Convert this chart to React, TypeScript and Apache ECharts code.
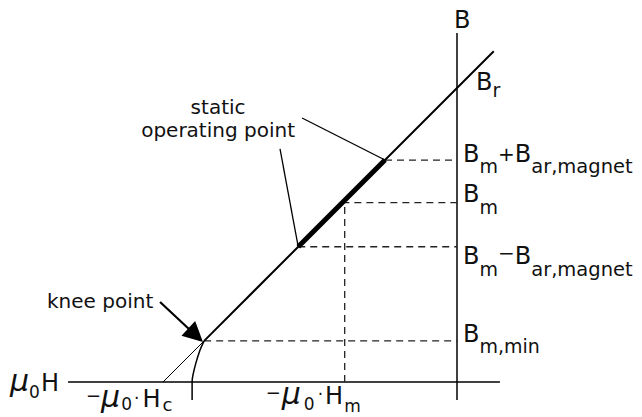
import { useEffect, useRef } from 'react';
import * as echarts from 'echarts';

// ---- data (normalised units: Br = 1, Hc = -1) ----
const BR = 1;
const HC = -1;
const levelNames = ['Bm+Bar,magnet', 'Bm', 'Bm−Bar,magnet', 'Bm,min'];
const levelValues = [0.755, 0.61, 0.46, 0.14];
const HM = -0.382;
const mainLine = [[-0.86, 0.14], [0.125, 1.125]];
const extrapolation = [[HC, 0], [-0.86, 0.14]];
const operatingSegment = [[-0.54, 0.46], [-0.245, 0.755]];
const kneeCurve = [[-0.86, 0.14], [-0.874, 0.109], [-0.888, 0.065], [-0.898, 0.024], [-0.901, 0], [-0.901, -0.061]];
const hAxisLine = [[-1.323, 0], [0.146, 0]];
const bAxisLine = [[0, -0.061], [0, 1.187]];
const leaderUpper = [[-0.527, 0.898], [-0.245, 0.755]];
const leaderLower = [[-0.602, 0.793], [-0.54, 0.46]];
const kneeArrow = [[-1.01, 0.272], [-0.889, 0.159]];

type Piece = { t: string; size: number; dy?: number; dx?: number; italic?: boolean };

const W = 642;
const H = 417;
const PX = 294;
const X0 = 457;
const Y0 = 382;

export default function App() {
  const ref = useRef<HTMLDivElement>(null);
  useEffect(() => {
    if (!ref.current) return;
    const chart = echarts.init(ref.current, null, { renderer: 'svg' });
    const solid = (data: number[][], width: number, extra: any = {}) => ({
      type: 'line',
      data,
      showSymbol: false,
      symbol: 'none',
      silent: true,
      lineStyle: { color: '#000', width, ...extra },
      z: 3,
    });
    const series: any[] = [
      solid(hAxisLine, 1.5),
      solid(bAxisLine, 1.5),
      ...levelValues.map((v, i) => ({
        ...solid([[v - BR, v], [0, v]], 1.3, { type: [7, 5], color: '#222' }),
        name: levelNames[i],
      })),
      solid([[HM, 0], [HM, levelValues[1]]], 1.3, { type: [7, 5], color: '#222' }),
      solid(extrapolation, 1),
      solid(mainLine, 2),
      solid(operatingSegment, 5, { cap: 'butt' }),
      { ...solid(kneeCurve, 1.5), smooth: 0.4 },
      solid(leaderUpper, 1.3),
      solid(leaderLower, 1.3),
      {
        type: 'lines',
        coordinateSystem: 'cartesian2d',
        silent: true,
        symbol: ['none', 'triangle'],
        symbolSize: [16, 20],
        lineStyle: { color: '#000', width: 2.2, opacity: 1 },
        itemStyle: { color: '#000' },
        data: [{ coords: kneeArrow }],
        z: 4,
      },
    ];
    chart.setOption({
      animation: false,
      backgroundColor: '#fff',
      grid: { left: 0, right: 0, top: 0, bottom: 0, containLabel: false },
      xAxis: { type: 'value', min: -X0 / PX, max: (W - X0) / PX, show: false },
      yAxis: { type: 'value', min: (Y0 - H) / PX, max: Y0 / PX, show: false },
      series,
    });

    const ctx = document.createElement('canvas').getContext('2d')!;
    const fontOf = (p: Piece) => `${p.italic ? 'italic ' : ''}${p.size}px "DejaVu Sans"`;
    const layout = (list: Piece[], x0: number, baseline: number) => {
      let x = x0;
      const out: any[] = [];
      list.forEach((p) => {
        const font = fontOf(p);
        ctx.font = font;
        const w = ctx.measureText(p.t).width;
        x += p.dx || 0;
        out.push({
          type: 'text',
          x,
          y: baseline + (p.dy || 0) - 0.346 * p.size,
          silent: true,
          style: {
            text: p.t,
            font,
            fill: '#111',
            align: 'left',
            verticalAlign: 'middle',
            textAlign: 'left',
            textVerticalAlign: 'middle',
          },
        });
        x += w;
      });
      return out;
    };
    const toPx = (pt: number[]) => chart.convertToPixel({ gridIndex: 0 }, pt) as number[];

    const levelPieces: Piece[][] = [
      [{ t: 'B', size: 24 }, { t: 'm', size: 19, dy: 11 }, { t: '+', size: 20, dy: -1 }, { t: 'B', size: 24 }, { t: 'ar,magnet', size: 19.5, dy: 11 }],
      [{ t: 'B', size: 24 }, { t: 'm', size: 19, dy: 11 }],
      [{ t: 'B', size: 24 }, { t: 'm', size: 19, dy: 11 }, { t: '−', size: 20, dy: -5 }, { t: 'B', size: 24 }, { t: 'ar,magnet', size: 19.5, dy: 11 }],
      [{ t: 'B', size: 24 }, { t: 'm,min', size: 19, dy: 11 }],
    ];
    const levelBaselineOffsets = [2, 0, 18, 1];
    const graphics: any[] = [];
    levelValues.forEach((v, i) => {
      const [px, py] = toPx([0, v]);
      graphics.push(...layout(levelPieces[i], px + 6, py + levelBaselineOffsets[i]));
    });
    const [bx] = toPx([0, 0]);
    const [, bry] = toPx([0, BR]);
    graphics.push(...layout([{ t: 'B', size: 24 }], bx - 3, 28));
    graphics.push(...layout([{ t: 'B', size: 24 }, { t: 'r', size: 19, dy: 7 }], bx + 19, bry + 2));
    const [, hy] = toPx([0, 0]);
    graphics.push(
      ...layout([{ t: 'μ', size: 30, italic: true }, { t: '0', size: 17, dy: 7 }, { t: 'H', size: 24, dx: 1 }], 10, hy + 9)
    );
    const [hcx] = toPx([HC, 0]);
    graphics.push(
      ...layout(
        [
          { t: '−', size: 18, dy: -5 },
          { t: 'μ', size: 30, italic: true },
          { t: '0', size: 17, dy: 3, dx: 1 },
          { t: '·', size: 17, dy: -3, dx: 2 },
          { t: 'H', size: 24, dx: 3 },
          { t: 'c', size: 18, dy: 4, dx: 2 },
        ],
        hcx - 77,
        hy + 25
      )
    );
    const [hmx] = toPx([HM, 0]);
    graphics.push(
      ...layout(
        [
          { t: '−', size: 18, dy: -5 },
          { t: 'μ', size: 30, italic: true, dx: 1 },
          { t: '0', size: 17, dy: 6, dx: 3 },
          { t: '·', size: 17, dy: -4, dx: 3 },
          { t: 'H', size: 24, dx: 2 },
          { t: 'm', size: 17, dy: 8, dx: 1 },
        ],
        hmx - 79,
        hy + 22
      )
    );
    graphics.push(...layout([{ t: 'knee point', size: 20 }], 47, 308));
    ctx.font = '20px "DejaVu Sans"';
    const opW = ctx.measureText('operating point').width;
    const stW = ctx.measureText('static').width;
    graphics.push(...layout([{ t: 'operating point', size: 20 }], 295 - opW, 137));
    graphics.push(...layout([{ t: 'static', size: 20 }], 295 - opW / 2 - stW / 2, 114));

    chart.setOption({ graphic: graphics });
    return () => chart.dispose();
  }, []);
  return (
    <div
      ref={ref}
      style={{ position: 'fixed', left: 0, top: 0, width: W, height: H, background: '#fff' }}
    />
  );
}
